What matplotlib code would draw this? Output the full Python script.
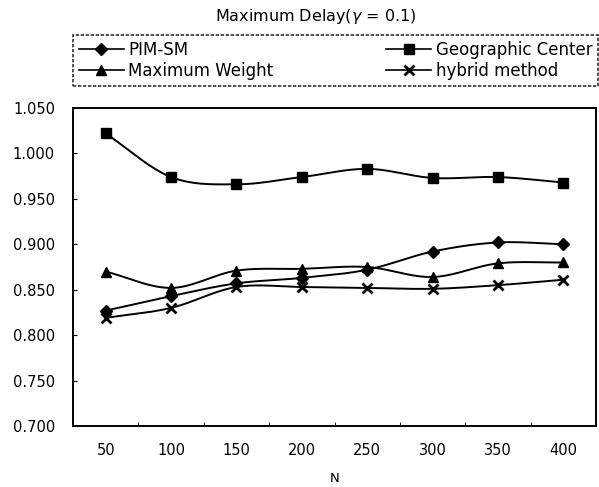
import numpy as np
import matplotlib
matplotlib.use('Agg')
import matplotlib.pyplot as plt
from matplotlib.ticker import FixedLocator, NullFormatter

plt.rcParams['font.family'] = ['DejaVu Sans']

# 数据
n_labels = ['50', '100', '150', '200', '250', '300', '350', '400']
pim_sm = [0.827, 0.843, 0.857, 0.863, 0.872, 0.892, 0.902, 0.900]
geo_center = [1.022, 0.974, 0.966, 0.974, 0.983, 0.973, 0.974, 0.968]
max_weight = [0.870, 0.852, 0.871, 0.873, 0.875, 0.864, 0.879, 0.880]
hybrid = [0.819, 0.830, 0.853, 0.853, 0.852, 0.851, 0.855, 0.861]


# Excel 风格的平滑线 (Catmull-Rom)
def smooth(x, y, steps=20):
    x = np.asarray(x, float)
    y = np.asarray(y, float)
    px = np.concatenate([[2 * x[0] - x[1]], x, [2 * x[-1] - x[-2]]])
    py = np.concatenate([[2 * y[0] - y[1]], y, [2 * y[-1] - y[-2]]])
    xs, ys = [], []
    t = np.linspace(0, 1, steps, endpoint=False)
    for i in range(1, len(px) - 2):
        for p, out in ((px, xs), (py, ys)):
            p0, p1, p2, p3 = p[i - 1], p[i], p[i + 1], p[i + 2]
            out.extend(0.5 * (2 * p1 + (-p0 + p2) * t
                              + (2 * p0 - 5 * p1 + 4 * p2 - p3) * t ** 2
                              + (-p0 + 3 * p1 - 3 * p2 + p3) * t ** 3))
    xs.append(x[-1])
    ys.append(y[-1])
    return xs, ys


fig = plt.figure(figsize=(5.99, 4.87), dpi=100)
ax = fig.add_axes([73 / 599, 1 - 426 / 487, 523 / 599, 318 / 487])

x = np.arange(len(n_labels))
series = [
    (pim_sm, 'D', 'PIM-SM', 6.5),
    (max_weight, '^', 'Maximum Weight', 7.5),
    (geo_center, 's', 'Geographic Center', 7.5),
    (hybrid, 'x', 'hybrid method', 7.5),
]
handles = []
for vals, mk, name, ms in series:
    mew = 2 if mk == 'x' else 1
    sx, sy = smooth(x, vals)
    ax.plot(sx, sy, color='black', lw=1.4)
    ax.plot(x, vals, linestyle='none', marker=mk, color='black',
            markersize=ms, markeredgewidth=mew)
    h, = ax.plot([], [], color='black', lw=1.2, marker=mk, markersize=ms - 0.5,
                 markeredgewidth=mew, label=name)
    handles.append(h)

ax.set_xlim(-0.5, len(n_labels) - 0.5)
ax.set_ylim(0.700, 1.050)
yt = np.arange(0.70, 1.0501, 0.05)
ax.set_yticks(yt)
ax.set_yticklabels(['%.3f' % v for v in yt])
ax.set_xticks(x)
ax.set_xticklabels(n_labels)
ax.xaxis.set_minor_locator(FixedLocator(x[:-1] + 0.5))
ax.xaxis.set_minor_formatter(NullFormatter())
ax.tick_params(axis='x', which='major', length=0, pad=12, labelsize=10.5)
ax.tick_params(axis='x', which='minor', direction='in', length=3)
ax.tick_params(axis='y', direction='in', length=3, labelsize=10.5, pad=13)
for s in ax.spines.values():
    s.set_linewidth(1.4)
ax.set_xlabel('N', fontsize=9.5, labelpad=10)

fig.text(316 / 599, 1 - 17 / 487, r'Maximum Delay($\gamma$ = 0.1)', ha='center',
         va='center', fontsize=11.5)

leg = fig.legend(handles=handles, ncol=2, loc='center', mode='expand',
                 bbox_to_anchor=(73 / 599, 1 - 88 / 487, 525 / 599, 55 / 487),
                 fontsize=12, frameon=True, fancybox=False, edgecolor='black',
                 handlelength=2.7, labelspacing=0.15, borderpad=0.35,
                 handletextpad=0.25, borderaxespad=0)
leg.get_frame().set_linewidth(1.2)
leg.get_frame().set_linestyle((0, (2, 1)))

fig.savefig('out.png', dpi=100)
